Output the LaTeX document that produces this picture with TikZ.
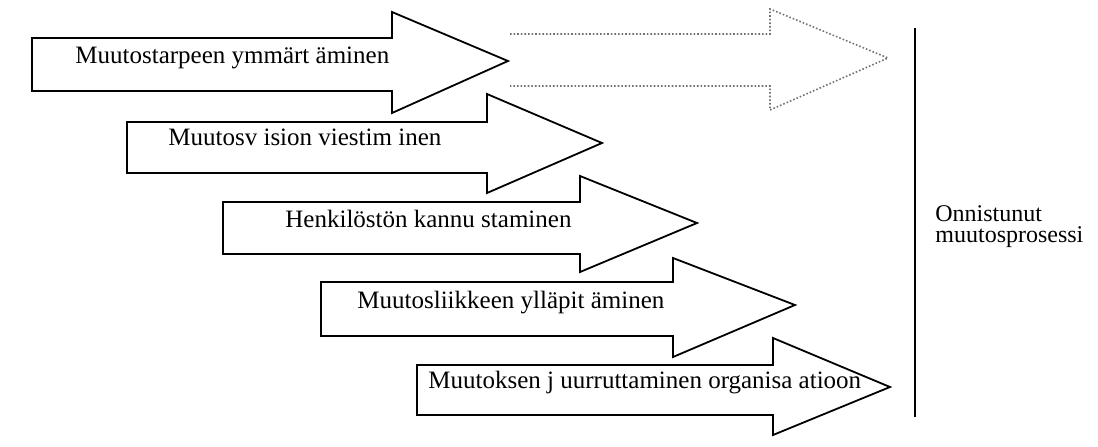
\documentclass[tikz,border=0pt]{standalone}
\usepackage{fontspec}
\setmainfont{Liberation Serif}
\usepackage{xcolor}
\usepackage{tikz}
\usetikzlibrary{positioning}

\begin{document}
\begin{tikzpicture} [x = 0.5pt, y = -0.5pt,
          phase/.style = {draw = black, line width = 0.9pt, line join = miter},
          future/.style = {draw = black!55, densely dotted, line width = 0.8pt},
          phasetext/.style = {anchor = base west, inner sep = 0pt,
              font = \fontsize{12.5}{15}\selectfont
          }
          ]
          \useasboundingbox (0,0) rectangle (1098,446);

          % Arrows
          \draw [phase] (32,38) -- (392,38) -- (392,12) -- (508,61) -- (392,113) -- (392,91) -- (32,91) -- cycle;
          \draw [phase] (127,122) -- (487,122) -- (487,94) -- (602,143) -- (487,193) -- (487,173) -- (127,173) -- cycle;
          \draw [phase] (223,202) -- (580,202) -- (580,176) -- (697,223) -- (580,272) -- (580,254) -- (223,254) -- cycle;
          \draw [phase] (321,282) -- (673,282) -- (673,258) -- (795,305) -- (673,357) -- (673,336) -- (321,336) -- cycle;
          \draw [phase] (417,365) -- (773,365) -- (773,338) -- (890,387) -- (773,435) -- (773,415) -- (417,415) -- cycle;
          \draw [future] (510,34) -- (770,34) -- (770,9) -- (888,58) -- (770,110) -- (770,86) -- (510,86);

          \node (tarve) [phasetext] at (75,63) {Muutostarpeen ymmärt äminen};
          \node (visio) [phasetext] at (168,145) {Muutosv ision viestim inen};
          \node (kannustus) [phasetext] at (285,227) {Henkilöstön kannu staminen};
          \node (yllapito) [phasetext] at (357,308) {Muutosliikkeen ylläpit äminen};
          \node (juurrutus) [phasetext] at (428,388) {Muutoksen j uurruttaminen organisa atioon};

          % Goal
          \coordinate (rajaylos) at (915,28);
          \coordinate (rajaalas) at (915,417);
          \draw [line width = 0.8pt] (rajaylos) -- (rajaalas);
          \node (tulos) [anchor = west, inner sep = 0pt, align = left,
              font = \fontsize{12}{10.5}\selectfont] at (935,227)
              {Onnistunut\\muutosprosessi};

        \end{tikzpicture}
\end{document}
